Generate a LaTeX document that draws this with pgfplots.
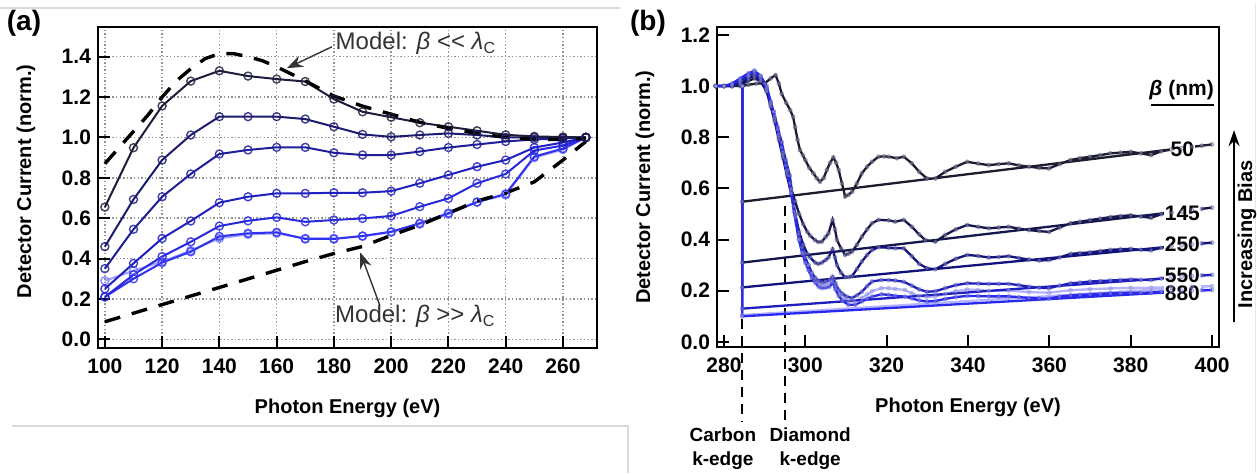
\documentclass[border=0pt]{standalone}
\usepackage{fontspec}
\setmainfont{Liberation Sans}
\usepackage{pgfplots}
\pgfplotsset{compat=1.18}
\usetikzlibrary{arrows.meta}
\definecolor{ca1}{HTML}{1E1E3C}
\definecolor{ca2}{HTML}{1C1C6E}
\definecolor{ca3}{HTML}{1E1E9A}
\definecolor{ca4}{HTML}{2020C0}
\definecolor{ca5}{HTML}{2828DC}
\definecolor{ca6}{HTML}{3030F0}
\definecolor{ca7}{HTML}{7878FF}
\definecolor{cb1}{HTML}{1C1C30}
\definecolor{cb2}{HTML}{16164E}
\definecolor{cb3}{HTML}{12127E}
\definecolor{cb4}{HTML}{1E1EBE}
\definecolor{cb5}{HTML}{2828EE}
\definecolor{cb6}{HTML}{8080FF}
\definecolor{mk}{HTML}{A0A0C0}
\pgfplotsset{
  base/.style={scale only axis, anchor=south west,
    axis line style={line width=1.1pt},
    tick align=inside, major tick length=6pt,
    tick style={line width=1pt, black},
    xtick pos=left, ytick pos=left,
    /pgf/number format/assume math mode=true,
    tick label style={font=\bfseries\fontsize{10.5}{12}\selectfont},
    label style={font=\bfseries\fontsize{10}{12}\selectfont},
    yticklabel style={/pgf/number format/.cd, fixed, fixed zerofill, precision=1},
    xticklabel style={yshift=-2pt},
  },
  la/.style={line width=1pt, mark=o, mark size=2pt, mark options={solid, line width=0.7pt, draw opacity=0.85}},
  lb/.style={line width=1.15pt, mark=*, mark size=1pt, mark options={solid, fill=mk, fill opacity=0.45, draw opacity=0.35, line width=0.4pt}},
}
\begin{document}
\begin{tikzpicture}
\path[use as bounding box] (0,0) rectangle (628.5pt,236.5pt);
\draw[gray!30, line width=0.6pt] (0,232.5pt) -- (310pt,232.5pt);
\draw[gray!30, line width=0.6pt] (6pt,23.5pt) -- (314pt,23.5pt) -- (314pt,0);
\draw[gray!20, line width=0.5pt] (627.5pt,0) -- (627.5pt,235pt);
\node[font=\bfseries\fontsize{14}{16}\selectfont] at (12pt,224.75pt) {(a)};
\node[font=\bfseries\fontsize{14}{16}\selectfont] at (324pt,224.75pt) {(b)};

% ---------------- panel (a)
\begin{axis}[base, at={(49pt,62.5pt)}, width=249.5pt, height=160.5pt,
  xmin=97.6, xmax=271.9, ymin=-0.043, ymax=1.547,
  xtick={100,120,...,260}, ytick={0,0.2,...,1.4},
  grid=major, major grid style={dash pattern=on 0.7pt off 1.1pt, gray!85, line width=0.7pt},
  xlabel={Photon Energy (eV)}, ylabel={Detector Current (norm.)},
  xlabel style={at={(axis description cs:0.5,-0.187)}, anchor=center},
  ylabel style={at={(axis description cs:-0.1443,0.519)}, anchor=center},
]
\addplot[la, ca7, opacity=0.7] coordinates {(100,0.29)(110,0.34)(120,0.385)(130,0.44)(140,0.50)(150,0.52)(160,0.525)(170,0.50)(180,0.50)(190,0.51)(200,0.53)(210,0.57)(220,0.62)(230,0.68)(240,0.715)(250,0.90)(260,0.94)(268,1.0)};
\addplot[la, ca6] coordinates {(100,0.21)(110,0.30)(120,0.38)(130,0.434)(140,0.51)(150,0.525)(160,0.53)(170,0.497)(180,0.497)(190,0.512)(200,0.533)(210,0.575)(220,0.625)(230,0.68)(240,0.72)(250,0.905)(260,0.945)(268,1.0)};
\addplot[la, ca5] coordinates {(100,0.21)(110,0.32)(120,0.41)(130,0.483)(140,0.561)(150,0.587)(160,0.604)(170,0.582)(180,0.591)(190,0.599)(200,0.611)(210,0.657)(220,0.698)(230,0.773)(240,0.819)(250,0.935)(260,0.96)(268,1.0)};
\addplot[la, ca4] coordinates {(100,0.25)(110,0.376)(120,0.50)(130,0.586)(140,0.677)(150,0.706)(160,0.723)(170,0.723)(180,0.726)(190,0.726)(200,0.734)(210,0.773)(220,0.814)(230,0.855)(240,0.888)(250,0.95)(260,0.975)(268,1.0)};
\addplot[la, ca3] coordinates {(100,0.35)(110,0.545)(120,0.706)(130,0.819)(140,0.918)(150,0.938)(160,0.951)(170,0.951)(180,0.924)(190,0.913)(200,0.913)(210,0.93)(220,0.95)(230,0.965)(240,0.98)(250,0.99)(260,0.995)(268,1.0)};
\addplot[la, ca2] coordinates {(100,0.459)(110,0.693)(120,0.888)(130,1.012)(140,1.103)(150,1.103)(160,1.103)(170,1.091)(180,1.053)(190,1.015)(200,1.003)(210,1.012)(220,1.02)(230,1.012)(240,1.0)(250,1.0)(260,1.0)(268,1.0)};
\addplot[la, ca1] coordinates {(100,0.655)(110,0.949)(120,1.156)(130,1.279)(140,1.330)(150,1.304)(160,1.289)(170,1.277)(180,1.190)(190,1.127)(200,1.100)(210,1.073)(220,1.053)(230,1.033)(240,1.013)(250,1.005)(260,1.002)(268,1.0)};
\addplot[black, line width=1.7pt, dash pattern=on 8pt off 6pt] coordinates {(100,0.87)(105,0.95)(110,1.03)(115,1.11)(120,1.20)(125,1.28)(130,1.34)(135,1.39)(140,1.415)(145,1.415)(150,1.40)(155,1.38)(160,1.35)(165,1.315)(170,1.28)(180,1.205)(190,1.155)(200,1.115)(210,1.075)(220,1.045)(230,1.02)(240,1.0)(250,0.99)(260,0.99)(268,0.995)};
\addplot[black, line width=1.7pt, dash pattern=on 8pt off 6pt] coordinates {(100,0.087)(120,0.172)(140,0.257)(160,0.342)(170,0.385)(180,0.425)(190,0.46)(200,0.515)(210,0.565)(220,0.625)(230,0.685)(240,0.725)(250,0.78)(260,0.888)(268,0.98)};
\draw[black!80, line width=0.7pt, -{Stealth[length=8pt,width=6pt]}] (axis cs:179.3,1.449) -- (axis cs:163.6,1.343);
\node[anchor=west, inner sep=0pt, text=black!80, font=\fontsize{12}{14}\selectfont] at (axis cs:180.5,1.466) {Model: {\itshape β} <{}< {\itshape λ}\textsubscript{C}};
\draw[black!80, line width=0.7pt, -{Stealth[length=8pt,width=6pt]}] (axis cs:196,0.17) -- (axis cs:189.2,0.43);
\node[anchor=west, inner sep=0pt, text=black!80, font=\fontsize{12}{14}\selectfont] at (axis cs:180.3,0.112) {Model: {\itshape β} >{}> {\itshape λ}\textsubscript{C}};
\end{axis}

% ---------------- panel (b)
\begin{axis}[base, at={(358.5pt,63pt)}, width=251pt, height=160pt,
  xmin=278.3, xmax=401.7, ymin=-0.02, ymax=1.231, clip=false,
  xtick={280,300,...,400}, ytick={0,0.2,...,1.2},
  xlabel={Photon Energy (eV)}, ylabel={Detector Current (norm.)},
  xlabel style={at={(axis description cs:0.5,-0.1875)}, anchor=center},
  ylabel style={at={(axis description cs:-0.1434,0.5)}, anchor=center},
]
\draw[black, line width=1.2pt, dash pattern=on 5pt off 3.5pt] (axis cs:284.5,0.09) -- (axis cs:284.5,-0.309);
\draw[black, line width=1.2pt, dash pattern=on 5pt off 3.5pt] (axis cs:295.0,0.53) -- (axis cs:295.0,-0.309);
\addplot[lb, cb6, opacity=0.6] coordinates {(278,1.0)(282,1.0)(284,1.02)(286,1.04)(287.5,1.06)(289,1.04)(290.5,0.99)(291.5,0.93)(292.5,0.88)(293.5,0.81)(294.5,0.74)(295.5,0.67)(296.5,0.59)(297.5,0.49)(298.5,0.40)(299.5,0.345)(300.5,0.30)(301.5,0.265)(302.5,0.24)(303.5,0.225)(304.5,0.222)(305.5,0.228)(306.7,0.245)(307.5,0.218)(308.5,0.19)(309.5,0.172)(310.6,0.16)(312,0.158)(313.9,0.172)(315.2,0.185)(316.4,0.198)(318.7,0.21)(320.5,0.21)(322.1,0.207)(324.5,0.203)(326.2,0.19)(328,0.18)(329.9,0.176)(332,0.178)(334.4,0.188)(337,0.198)(339.8,0.205)(342.5,0.203)(345.1,0.2)(350,0.2)(355,0.195)(359.9,0.192)(365.2,0.202)(370,0.206)(375,0.209)(380,0.211)(385,0.212)(390,0.214)(395,0.216)(400,0.218)(284.5,0.105)(284.5,1.0)};
\addplot[lb, cb1] coordinates {(278,1.0)(280,1.0)(282,1.0)(284,1.0)(286,1.005)(288,1.01)(290,1.01)(291.5,1.03)(292.7,1.043)(293.5,1.01)(294.2,0.97)(295.3,0.935)(296.3,0.906)(297,0.88)(297.5,0.84)(298.1,0.79)(298.7,0.75)(299.4,0.73)(300,0.711)(301,0.68)(302,0.659)(302.8,0.64)(303.6,0.626)(304.5,0.64)(305.3,0.672)(306.1,0.70)(306.9,0.721)(307.6,0.70)(308.2,0.672)(309,0.62)(309.8,0.568)(310.6,0.575)(311.5,0.587)(312.7,0.62)(313.9,0.659)(315.2,0.685)(316.4,0.704)(318,0.724)(319.3,0.725)(320.5,0.724)(322.5,0.718)(324.2,0.724)(326.2,0.698)(328,0.665)(329.9,0.639)(332,0.639)(334.4,0.665)(337,0.685)(339.8,0.704)(342.5,0.697)(345.1,0.691)(347.5,0.695)(350,0.698)(352.5,0.69)(355,0.685)(357.5,0.68)(359.9,0.678)(362.5,0.695)(365.2,0.711)(367.5,0.718)(370,0.724)(372.5,0.73)(375,0.737)(377.5,0.74)(380,0.743)(382.5,0.737)(385,0.730)(387.5,0.745)(390,0.752)(392.5,0.757)(395,0.762)(397.5,0.767)(400,0.772)(284.5,0.548)(284.5,1.0)};
\addplot[lb, cb2] coordinates {(278,1.0)(280,1.0)(282,1.0)(284,1.005)(286,1.02)(287.5,1.03)(289,1.02)(290.5,0.98)(291.5,0.93)(292.5,0.87)(293.5,0.80)(294.5,0.73)(295.5,0.66)(296.5,0.60)(297.5,0.55)(298.5,0.50)(299.5,0.46)(300.5,0.43)(301.2,0.415)(302.4,0.398)(303.2,0.39)(304.1,0.392)(305,0.41)(305.7,0.424)(306.7,0.477)(307.3,0.44)(307.8,0.398)(308.8,0.365)(309.8,0.34)(310.6,0.345)(311.5,0.353)(312.7,0.38)(313.9,0.411)(315.2,0.44)(316.4,0.464)(318,0.477)(320.5,0.475)(322.1,0.47)(324.2,0.477)(326.2,0.45)(328,0.42)(329.5,0.398)(332,0.392)(334.4,0.418)(337,0.44)(339.8,0.457)(342.5,0.45)(345.1,0.444)(347.5,0.447)(350,0.45)(352.5,0.443)(355,0.437)(357.5,0.433)(359.9,0.43)(362.5,0.447)(365.2,0.464)(367.5,0.47)(370,0.476)(372.5,0.482)(375,0.488)(377.5,0.492)(380,0.495)(382.5,0.49)(385,0.485)(387.5,0.499)(390,0.505)(392.5,0.51)(395,0.515)(397.5,0.52)(400,0.525)(284.5,0.31)(284.5,1.0)};
\addplot[lb, cb3] coordinates {(278,1.0)(280,1.0)(282,1.0)(284,1.01)(286,1.03)(287.5,1.04)(289,1.02)(290.5,0.98)(291.5,0.92)(292.5,0.86)(293.5,0.79)(294.5,0.72)(295.5,0.65)(296.5,0.58)(297.5,0.50)(298.5,0.43)(299.5,0.38)(300.5,0.345)(301.2,0.33)(302.4,0.31)(303.2,0.305)(304.1,0.31)(305,0.32)(305.7,0.33)(306.7,0.362)(307.3,0.33)(307.8,0.30)(308.8,0.27)(309.8,0.253)(310.6,0.254)(311.5,0.257)(312.7,0.285)(313.9,0.314)(315.2,0.34)(316.4,0.359)(318,0.37)(320.5,0.368)(322.1,0.366)(324.2,0.366)(326.2,0.335)(328,0.305)(329.9,0.288)(332,0.284)(334.4,0.305)(337,0.325)(339.8,0.34)(342.5,0.336)(345.1,0.33)(347.5,0.332)(350,0.335)(352.5,0.328)(355,0.322)(357.5,0.318)(359.9,0.32)(362.5,0.33)(365.2,0.344)(367.5,0.347)(370,0.35)(372.5,0.355)(375,0.36)(377.5,0.362)(380,0.364)(382.5,0.36)(385,0.358)(387.5,0.368)(390,0.374)(392.5,0.378)(395,0.381)(397.5,0.385)(400,0.388)(284.5,0.213)(284.5,1.0)};
\addplot[lb, cb4] coordinates {(278,1.0)(280,1.0)(282,1.005)(284,1.02)(286,1.04)(287.5,1.05)(289,1.03)(290.5,0.99)(291.5,0.93)(292.2,0.90)(293.2,0.84)(294.2,0.78)(295.2,0.71)(296.2,0.65)(297.2,0.53)(298.4,0.42)(299.2,0.37)(300,0.33)(300.8,0.30)(301.6,0.27)(302.5,0.25)(303.3,0.238)(304.1,0.232)(305,0.236)(305.9,0.242)(306.7,0.255)(307.4,0.23)(308.2,0.203)(309.2,0.188)(310.2,0.177)(311.5,0.172)(312.7,0.182)(313.9,0.196)(315.2,0.218)(316.4,0.236)(318.7,0.242)(320.5,0.242)(322.1,0.24)(324.2,0.235)(326.2,0.22)(328,0.205)(329.9,0.196)(332,0.198)(334.4,0.21)(337,0.222)(339.8,0.229)(342.5,0.228)(345.1,0.227)(347.5,0.227)(350,0.227)(352.5,0.222)(355,0.216)(357.5,0.212)(359.9,0.21)(362.5,0.22)(365.2,0.229)(367.5,0.232)(370,0.236)(372.5,0.238)(375,0.24)(377.5,0.242)(380,0.244)(382.5,0.243)(385,0.242)(387.5,0.248)(390,0.252)(392.5,0.255)(395,0.257)(397.5,0.26)(400,0.262)(284.5,0.13)(284.5,1.0)};
\addplot[lb, cb5] coordinates {(278,1.0)(280,1.0)(282,1.01)(284,1.03)(286,1.05)(287.5,1.06)(289,1.04)(290.5,1.0)(291.5,0.94)(292.2,0.90)(293.2,0.83)(294.2,0.76)(295.2,0.69)(296.2,0.62)(297.2,0.51)(298.4,0.40)(299.2,0.35)(300,0.31)(300.8,0.28)(301.6,0.25)(302.5,0.23)(303.3,0.215)(304.1,0.21)(305,0.212)(305.9,0.215)(306.7,0.232)(307.4,0.205)(308.2,0.18)(309.2,0.16)(310.6,0.145)(312.3,0.145)(313.9,0.158)(315.2,0.168)(316.4,0.177)(318.7,0.186)(320.5,0.184)(322.1,0.18)(324.5,0.177)(326.2,0.17)(328,0.162)(329.9,0.158)(332,0.16)(334.4,0.168)(337,0.175)(339.8,0.18)(342.5,0.179)(345.1,0.178)(347.5,0.178)(350,0.178)(352.5,0.175)(355,0.172)(357.5,0.17)(359.9,0.17)(362.5,0.177)(365.2,0.182)(367.5,0.184)(370,0.186)(372.5,0.188)(375,0.19)(377.5,0.191)(380,0.192)(382.5,0.192)(385,0.193)(387.5,0.196)(390,0.198)(392.5,0.2)(395,0.201)(397.5,0.202)(400,0.203)(284.5,0.10)(284.5,1.0)};
\begin{scope}[every node/.style={fill=white, inner sep=0.6pt, font=\bfseries\fontsize{10.5}{12}\selectfont}]
\node at (axis cs:392.7,0.753) {50};
\node at (axis cs:392.7,0.503) {145};
\node at (axis cs:392.7,0.383) {250};
\node at (axis cs:392.7,0.262) {550};
\node at (axis cs:392.7,0.190) {880};
\end{scope}
\node[font=\bfseries\fontsize{10.5}{12}\selectfont] at (axis cs:392.5,0.984) {{\itshape β} (nm)};
\draw[black, line width=1pt] (axis cs:384.9,0.926) -- (axis cs:400.4,0.926);
\draw[black, line width=1.2pt, -{Stealth[length=8pt,width=5.5pt]}] (axis cs:405.4,0.078) -- (axis cs:405.4,0.828);
\node[rotate=90, font=\bfseries\fontsize{10}{12}\selectfont] at (axis cs:408.6,0.42) {Increasing Bias};
\node[align=center, font=\bfseries\fontsize{9.5}{12}\selectfont] at (axis cs:279.75,-0.418) {Carbon\\k-edge};
\node[align=center, font=\bfseries\fontsize{9.5}{12}\selectfont] at (axis cs:301.2,-0.418) {Diamond\\k-edge};
\end{axis}
\end{tikzpicture}
\end{document}
